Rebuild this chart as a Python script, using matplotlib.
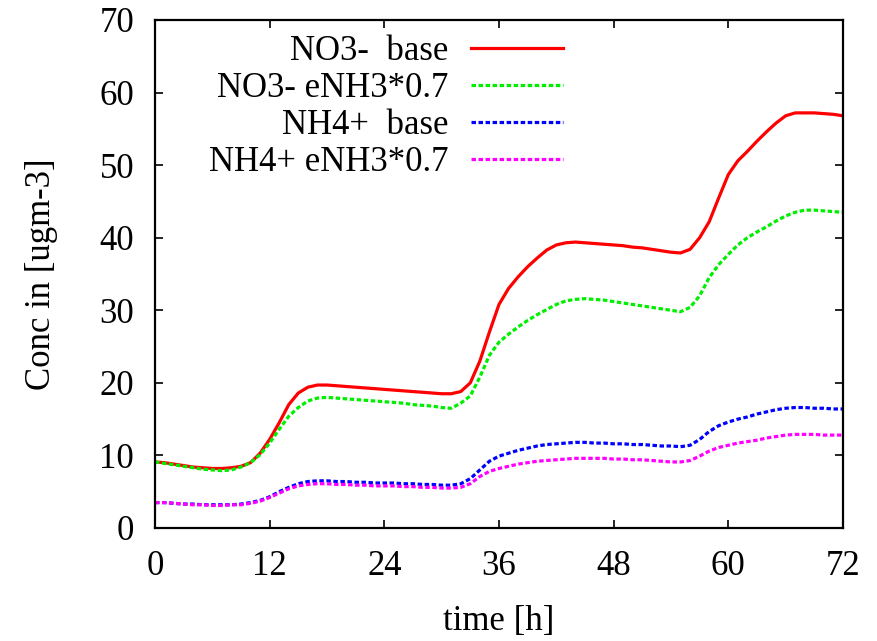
import matplotlib
matplotlib.use("Agg")
import matplotlib.pyplot as plt

hours = list(range(0, 73))

no3_base = [9.1, 9.0, 8.8, 8.6, 8.4, 8.3, 8.2, 8.2, 8.3, 8.5,
            9.0, 10.3, 12.2, 14.5, 17.0, 18.6, 19.4, 19.7, 19.7, 19.6,
            19.5, 19.4, 19.3, 19.2, 19.1, 19.0, 18.9, 18.8, 18.7, 18.6,
            18.5, 18.5, 18.8, 20.0, 23.0, 27.0, 30.8, 33.0, 34.6, 36.0,
            37.2, 38.3, 39.0, 39.3, 39.4, 39.3, 39.2, 39.1, 39.0, 38.9,
            38.7, 38.6, 38.4, 38.2, 38.0, 37.9, 38.4, 40.0, 42.2, 45.5,
            48.7, 50.6, 51.9, 53.3, 54.6, 55.8, 56.8, 57.2, 57.2, 57.2,
            57.1, 57.0, 56.8]

no3_red = [9.1, 8.9, 8.7, 8.5, 8.3, 8.1, 8.0, 7.9, 8.0, 8.4,
           9.0, 10.1, 11.7, 13.6, 15.4, 16.6, 17.5, 17.9, 18.0, 17.9,
           17.8, 17.7, 17.6, 17.5, 17.4, 17.3, 17.2, 17.0, 16.9, 16.8,
           16.6, 16.5, 17.2, 18.2, 20.8, 23.8, 25.6, 26.7, 27.7, 28.6,
           29.4, 30.1, 30.8, 31.3, 31.5, 31.6, 31.5, 31.4, 31.2, 31.0,
           30.8, 30.6, 30.4, 30.2, 30.0, 29.8, 30.4, 32.0, 34.5, 36.3,
           37.7, 39.0, 40.0, 40.8, 41.5, 42.3, 43.0, 43.5, 43.8, 43.8,
           43.7, 43.6, 43.5]

nh4_base = [3.5, 3.5, 3.4, 3.3, 3.3, 3.2, 3.2, 3.2, 3.2, 3.3,
            3.5, 3.8, 4.3, 5.0, 5.6, 6.1, 6.4, 6.5, 6.5, 6.4,
            6.4, 6.3, 6.3, 6.2, 6.2, 6.2, 6.1, 6.1, 6.0, 6.0,
            5.9, 5.9, 6.1, 6.8, 8.0, 9.2, 9.9, 10.3, 10.7, 11.0,
            11.3, 11.5, 11.6, 11.7, 11.8, 11.8, 11.7, 11.7, 11.6, 11.6,
            11.5, 11.5, 11.4, 11.3, 11.3, 11.2, 11.4, 12.2, 13.3, 14.1,
            14.6, 15.0, 15.3, 15.7, 16.0, 16.3, 16.5, 16.6, 16.6, 16.5,
            16.5, 16.4, 16.4]

nh4_red = [3.5, 3.5, 3.4, 3.3, 3.2, 3.2, 3.1, 3.1, 3.2, 3.2,
           3.4, 3.7, 4.2, 4.8, 5.4, 5.8, 6.0, 6.1, 6.1, 6.0,
           6.0, 5.9, 5.9, 5.8, 5.8, 5.8, 5.7, 5.7, 5.6, 5.6,
           5.5, 5.5, 5.6, 6.1, 7.1, 7.8, 8.2, 8.5, 8.8, 9.0,
           9.2, 9.3, 9.4, 9.5, 9.6, 9.6, 9.6, 9.6, 9.5, 9.5,
           9.4, 9.4, 9.3, 9.2, 9.1, 9.1, 9.3, 9.9, 10.6, 11.1,
           11.4, 11.7, 11.9, 12.1, 12.4, 12.6, 12.8, 12.9, 12.9, 12.9,
           12.8, 12.8, 12.8]

labels = ["NO3-  base", "NO3- eNH3*0.7", "NH4+  base", "NH4+ eNH3*0.7"]
colors = ["#ff0000", "#00ee00", "#0000ff", "#ff00ff"]

plt.rcParams["font.family"] = ["Liberation Serif", "DejaVu Serif"]
plt.rcParams["font.size"] = 25

fig = plt.figure(figsize=(8.77, 6.41), dpi=100)
ax = fig.add_axes([0.1767, 0.1763, 0.9612 - 0.1767, 0.9688 - 0.1763])

dots = (0, (1.4, 0.8))
series = [no3_base, no3_red, nh4_base, nh4_red]
for i, ys in enumerate(series):
    if i == 0:
        ax.plot(hours, ys, color=colors[i], lw=2.3, label=labels[i])
    else:
        ax.plot(hours, ys, color=colors[i], lw=2.3, linestyle=dots,
                dash_capstyle="butt", label=labels[i])

ax.set_xlim(0, 72)
ax.set_ylim(0, 70)
ax.set_xticks(range(0, 73, 12))
ax.set_yticks(range(0, 71, 10))
ax.tick_params(direction="in", length=6, width=1.2, top=True, right=True)
ax.tick_params(axis="x", pad=16)
ax.tick_params(axis="y", pad=15)
for s in ax.spines.values():
    s.set_linewidth(1.6)

ax.set_xlabel("time [h]", labelpad=16)
ax.set_ylabel("Conc in [ugm-3]", labelpad=30)

ax.legend(loc="upper right", bbox_to_anchor=(0.593, 0.97), frameon=False,
          markerfirst=False, handlelength=2.65, handletextpad=0.65,
          labelspacing=0.11, borderaxespad=0.0, borderpad=0.0, fontsize=25)

fig.savefig("out.png", dpi=100)
